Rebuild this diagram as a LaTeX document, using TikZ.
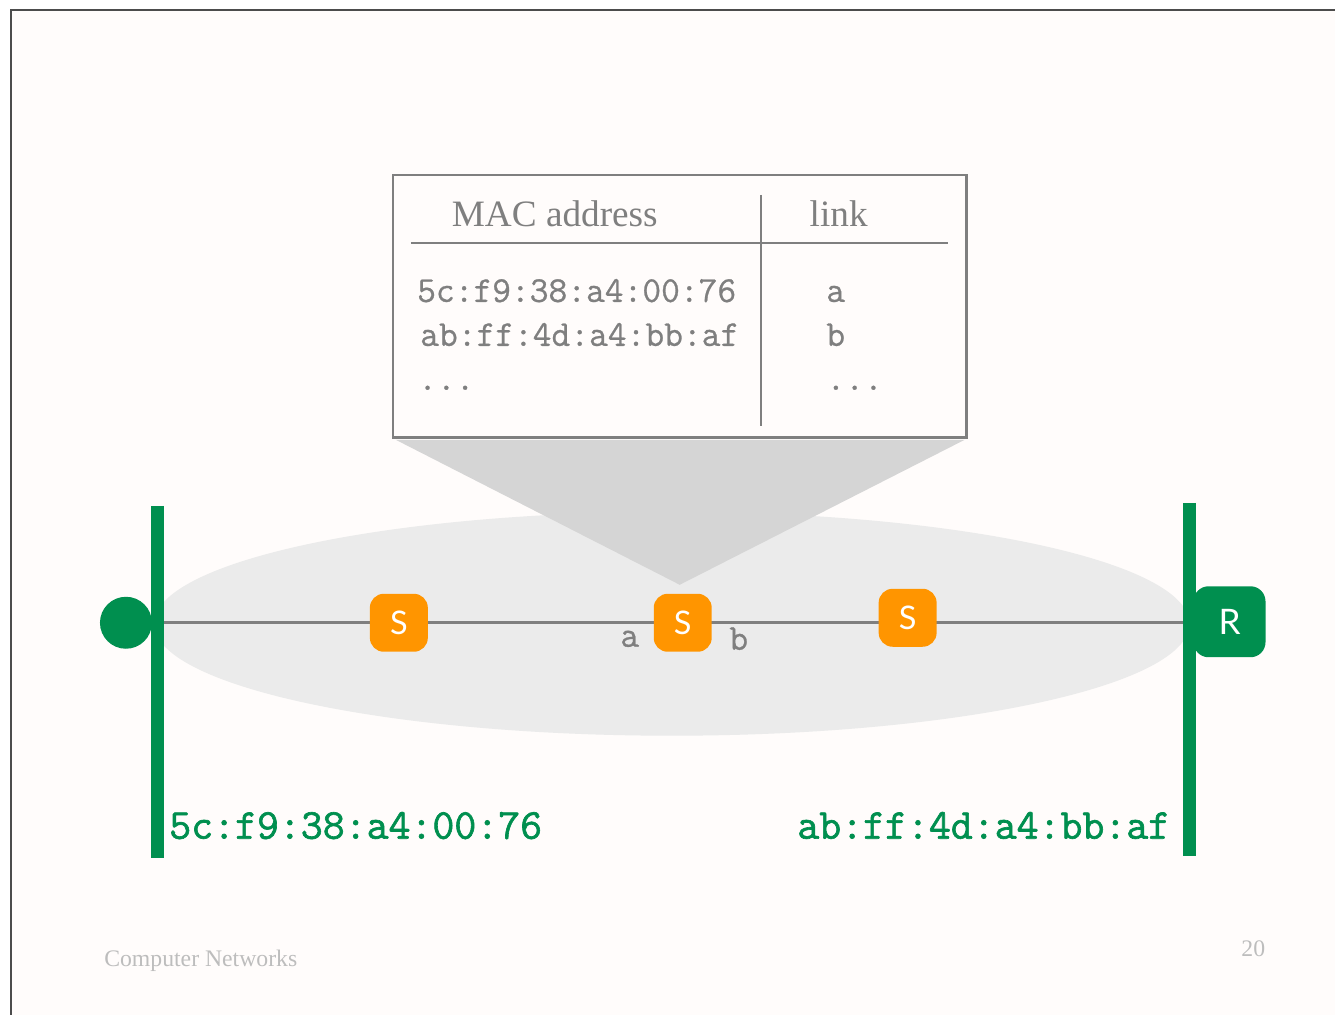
\documentclass[tikz,border=0pt]{standalone}
\usepackage{fontspec}
\setmainfont{Liberation Serif}
\setsansfont{Lato}
\newfontfamily\tabmono[FakeBold=0.7]{Latin Modern Mono}
\newfontfamily\addrmono[FakeBold=1.5]{Latin Modern Mono}
\usetikzlibrary{positioning}

\definecolor{netgreen}{HTML}{008F4F}
\definecolor{sworange}{HTML}{FF9500}
\definecolor{tabgrey}{HTML}{7F7F7F}
\definecolor{langrey}{HTML}{EBEBEB}
\definecolor{conegrey}{HTML}{D5D5D5}
\definecolor{slide}{HTML}{FFFCFB}
\definecolor{footgrey}{HTML}{BDBDBD}

\begin{document}
\begin{tikzpicture}[x=0.02cm,y=-0.02cm]

\tikzstyle{every node}=[inner sep=0pt]
\tikzstyle{switch}=[fill=sworange,rounded corners=0.28cm,minimum size=1.16cm,text=white,font=\sffamily\fontsize{18.5}{18.5}\selectfont]
\tikzstyle{router}=[fill=netgreen,rounded corners=0.3cm,minimum width=1.44cm,minimum height=1.42cm,text=white,font=\sffamily\fontsize{20}{20}\selectfont]
\tikzstyle{host}=[circle,fill=netgreen,minimum size=1.04cm]
\tikzstyle{head}=[text=tabgrey,font=\fontsize{21.2}{21.2}\selectfont]
\tikzstyle{entry}=[text=tabgrey,font=\tabmono\fontsize{20.75}{20.75}\selectfont]
\tikzstyle{addr}=[text=netgreen,font=\addrmono\fontsize{24.25}{24.25}\selectfont]
\tikzstyle{foot}=[text=footgrey,font=\fontsize{13.5}{13.5}\selectfont]
\tikzstyle{bar}=[netgreen,line width=0.26cm]
\tikzstyle{link}=[tabgrey,line width=1.5pt]

% slide
\fill[white] (0,0) rectangle (1336,1015);
\fill[slide] (11,10) rectangle (1336,1015);
\draw[black!70,line width=0.6pt] (11,1015) -- (11,10) -- (1336,10);

% broadcast domain and zoom cone
\fill[langrey] (672,624) ellipse [x radius=10.36cm,y radius=2.24cm];
\fill[conegrey] (396,440) -- (965,440) -- (680,585) -- cycle;

% switch table
\node[draw=tabgrey,line width=1.6pt,fill=slide,minimum width=11.48cm,minimum height=5.26cm] (tab) at (680,306.5) {};
\draw[tabgrey,line width=1.2pt] (411,243) -- (948,243);
\draw[tabgrey,line width=1.2pt] (761,195) -- (761,426);
\node[head,anchor=base] (machead) at (555,227) {MAC address};
\node[head,anchor=base] (linkhead) at (839,227) {link};
\node[entry,anchor=base west] (mac1) at (417,302) {5c:f9:38:a4:00:76};
\node[entry,anchor=base west] (mac2) at (420,346) {ab:ff:4d:a4:bb:af};
\node[entry,anchor=base west] (macdots) at (418,390) {...};
\node[entry,anchor=base] (port1) at (836,302) {a};
\node[entry,anchor=base] (port2) at (836,346) {b};
\node[entry,anchor=base] (portdots) at (855,390) {...};

% hosts on the lan
\node[host] (h) at (126,623) {};
\node[router] (r) at (1230,622) {R};
\draw[link] (h.east) -- (r.west |- h.east);
\node[switch] (s1) at (399,623) {S};
\node[switch] (s2) at (683,623) {S};
\node[switch] (s3) at (908,618) {S};
\node[entry,anchor=base] (pa) at (630,647) {a};
\node[entry,anchor=base] (pb) at (739,650) {b};

% interfaces
\draw[bar] (157.5,506) -- (157.5,858);
\draw[bar] (1190,503) -- (1190,856);
\node[addr,anchor=base west] (hmac) at (169,839) {5c:f9:38:a4:00:76};
\node[addr,anchor=base east] (rmac) at (1171,839) {ab:ff:4d:a4:bb:af};

% footer
\node[foot,anchor=base west] (course) at (104,967) {Computer Networks};
\node[foot,anchor=base east] (page) at (1266,957) {20};

\end{tikzpicture}
\end{document}
